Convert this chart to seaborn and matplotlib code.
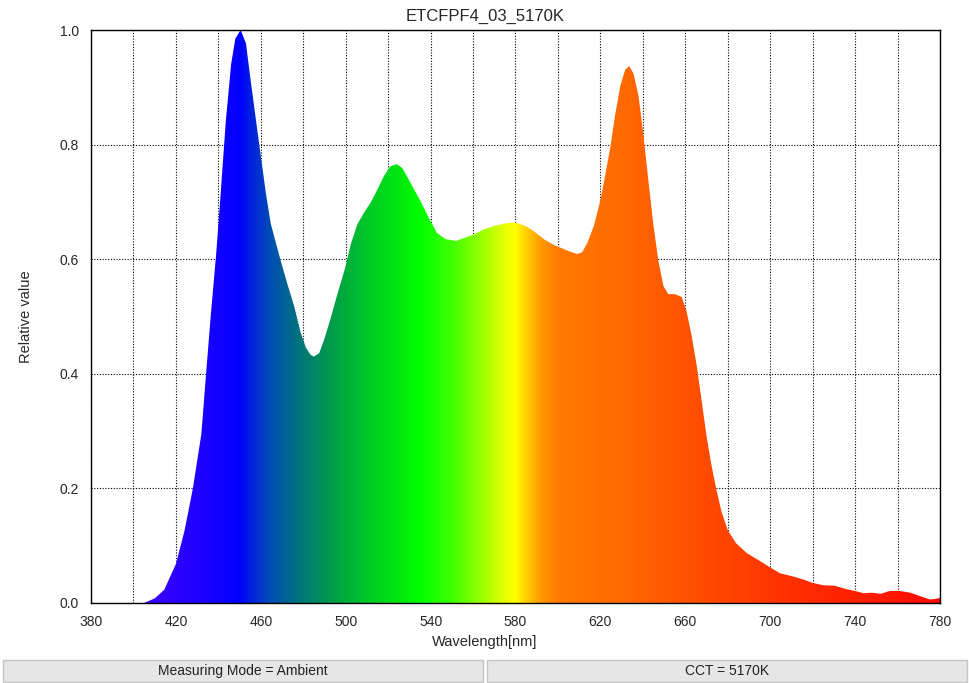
import numpy as np
import matplotlib
matplotlib.use('Agg')
import matplotlib.pyplot as plt
import seaborn as sns
from matplotlib.colors import LinearSegmentedColormap
from matplotlib.patches import Rectangle

# spectrum
wavelength = [405, 410, 414.5, 420, 424, 428, 432, 434, 436.5, 439, 441, 443.5, 446, 448, 450.5,
              453, 455.3, 457.6, 460, 462.4, 464.7, 467, 469.4, 472.5, 475.7, 478.8, 481.2, 483.5, 485,
              487.5, 489.8, 493, 496, 500, 502.4, 505.5, 508.6, 511.8, 515, 518, 521, 524, 526.7,
              530.6, 535.3, 539.2, 543, 547, 552, 556.5, 560.4, 565, 570, 576, 580, 584.7, 588.6,
              593.3, 598, 600, 604.4, 609, 611.4, 613.8, 617, 620, 622.3, 624.7, 627, 629.4, 631.7,
              633.6, 635.6, 638, 640.3, 642.7, 645, 647.3, 649.7, 652, 655.2, 658.3, 660.6, 663,
              665.3, 667.7, 670, 672.3, 674.7, 677, 680, 684, 689, 694.4, 700, 704.6, 711, 715.6,
              720, 725, 730.5, 736, 740, 744, 748, 752, 756.4, 761, 766, 770.6, 775.3, 778.4, 780]
relative = [0.0, 0.008, 0.023, 0.068, 0.125, 0.2, 0.295, 0.39, 0.505, 0.61, 0.71, 0.84, 0.94, 0.985, 1.0,
            0.977, 0.91, 0.846, 0.78, 0.715, 0.662, 0.63, 0.597, 0.557, 0.518, 0.472, 0.446, 0.433, 0.43,
            0.436, 0.459, 0.498, 0.538, 0.588, 0.626, 0.661, 0.681, 0.699, 0.722, 0.745, 0.762, 0.766, 0.759,
            0.733, 0.701, 0.672, 0.646, 0.635, 0.632, 0.638, 0.643, 0.652, 0.658, 0.663, 0.664, 0.658, 0.649,
            0.635, 0.625, 0.622, 0.615, 0.609, 0.612, 0.628, 0.659, 0.703, 0.747, 0.796, 0.853, 0.903, 0.931,
            0.937, 0.924, 0.884, 0.815, 0.734, 0.659, 0.597, 0.553, 0.539, 0.539, 0.534, 0.509, 0.466,
            0.416, 0.353, 0.291, 0.241, 0.197, 0.16, 0.127, 0.104, 0.087, 0.075, 0.062, 0.052, 0.046, 0.041,
            0.035, 0.031, 0.030, 0.024, 0.021, 0.017, 0.018, 0.016, 0.021, 0.021, 0.018, 0.012, 0.006, 0.0075, 0.009]

# colour stops of the spectrum fill
stop_nm = [380, 405, 430, 450, 455, 465, 480, 495, 510, 525, 535, 550, 565, 575, 580, 585, 592, 600, 630, 660, 700, 740, 780]
stop_col = ['#4000ff', '#3c00ff', '#2000ff', '#0000ff', '#0020e0', '#0050b0', '#007a75', '#00a045',
            '#00c828', '#00e810', '#00ff00', '#40ff00', '#a0ff00', '#e8ff00', '#ffff00', '#ffd000',
            '#ff9a00', '#ff7a00', '#ff6a00', '#ff5200', '#ff3600', '#ff2000', '#ff0a00']

title = 'ETCFPF4_03_5170K'
mode_text = 'Measuring Mode = Ambient'
cct_text = 'CCT = 5170K'

sns.set_style('white')
plt.rcParams['font.family'] = ['Liberation Sans', 'DejaVu Sans']

fig = plt.figure(figsize=(9.7, 6.83), dpi=100)
ax = fig.add_axes([91/970, 80/683, 849/970, 573/683])

sns.lineplot(x=wavelength, y=relative, ax=ax, color='black', linewidth=0, zorder=3)

poly = ax.fill_between(wavelength, relative, 0, color='none', lw=0)
pos = [(n - 380) / 400 for n in stop_nm]
cmap = LinearSegmentedColormap.from_list('spec', list(zip(pos, stop_col)), N=1024)
grad = np.linspace(0, 1, 1200).reshape(1, -1)
img = ax.imshow(grad, cmap=cmap, extent=[380, 780, 0, 1], aspect='auto', origin='lower', zorder=2,
                interpolation='bilinear')
img.set_clip_path(poly.get_paths()[0], transform=ax.transData)

ax.set_xlim(380, 780)
ax.set_ylim(0, 1)
ax.set_xticks(np.arange(380, 781, 40))
ax.set_xticks(np.arange(380, 781, 20), minor=True)
ax.set_yticks(np.arange(0, 1.01, 0.2))
ax.set_yticklabels([f'{v:.1f}' for v in np.arange(0, 1.01, 0.2)])
ax.tick_params(axis='both', which='major', direction='out', length=5, width=1, labelsize=10, color='black')
ax.tick_params(axis='x', which='minor', length=0)
ax.grid(True, which='both', axis='x', color='black', linestyle=(0, (1, 1.5)), linewidth=0.8, zorder=1)
ax.grid(True, which='major', axis='y', color='black', linestyle=(0, (1, 1.5)), linewidth=0.8, zorder=1)
ax.set_axisbelow(True)
for s in ax.spines.values():
    s.set_visible(True)
    s.set_color('black')
    s.set_linewidth(1.0)

ax.set_xlabel('Wavelength[nm]', fontsize=10.5)
ax.xaxis.set_label_coords((485 - 91) / 849, -0.055)
ax.set_ylabel('Relative value', fontsize=10.5)
ax.yaxis.set_label_coords(-0.068, 0.5)

fig.text(0.5, 1 - 16 / 683, title, ha='center', va='center', fontsize=12)

# status bar boxes
for x0, x1, txt in [(3, 483, mode_text), (487, 967, cct_text)]:
    fig.patches.append(Rectangle((x0 / 970, 1 / 683), (x1 - x0) / 970, 22 / 683, transform=fig.transFigure,
                                 facecolor='#e6e6e6', edgecolor='#c4c4c4', linewidth=1))
    fig.text((x0 + x1) / 2 / 970, 12 / 683, txt, ha='center', va='center', fontsize=10, color='#222222')

fig.savefig('out.png', dpi=100)
